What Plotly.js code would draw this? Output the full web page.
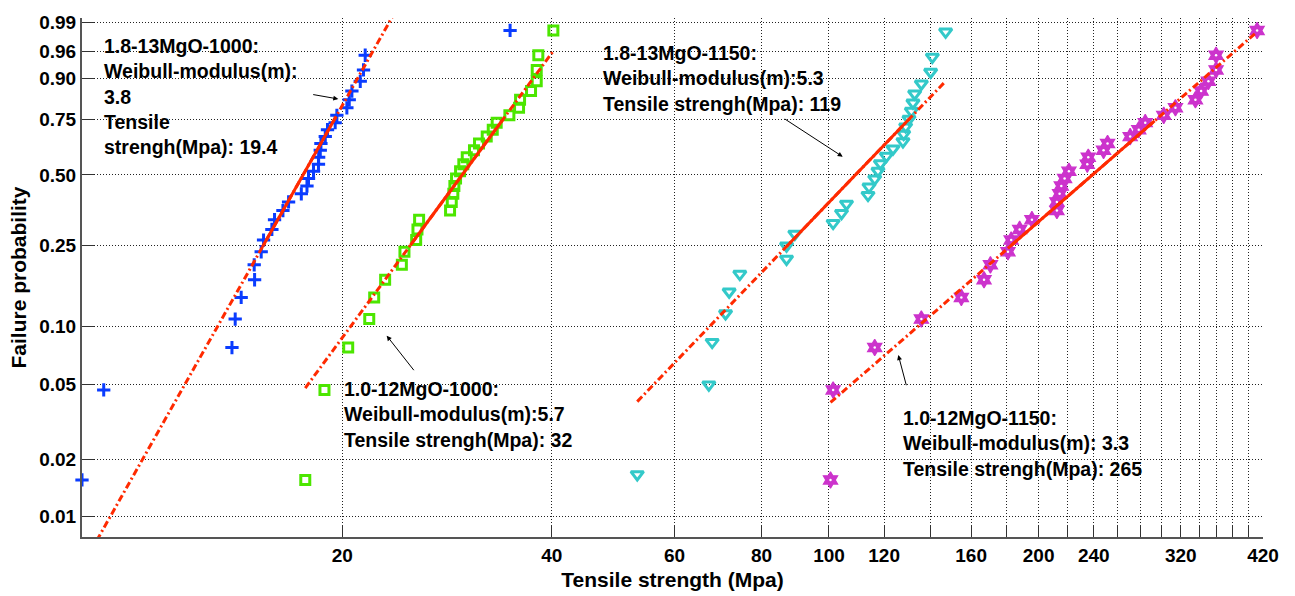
<!DOCTYPE html>
<html>
<head>
<meta charset="utf-8">
<script src="https://cdn.plot.ly/plotly-3.0.1.min.js"></script>
<style>html,body{margin:0;padding:0;background:#fff;}#chart{width:1295px;height:596px;}</style>
</head>
<body>
<div id="chart"></div>
<script>
// ---------- data ----------
// 1.8-13MgO-1000 (blue crosses)
const blueStrength = [8.46, 9.09, 13.89, 14.04, 14.32, 14.97, 14.95, 15.30, 15.42, 15.85, 15.99, 16.44, 16.75, 17.47, 17.80, 17.89,
  18.19, 18.49, 18.50, 18.60, 18.64, 18.91, 19.05, 19.54, 19.65, 20.31, 20.47, 20.65, 21.23, 21.46, 21.58, 34.84];
const blueProb = [0.0156, 0.0469, 0.0781, 0.1094, 0.1406, 0.1719, 0.2031, 0.2344, 0.2656, 0.2969, 0.3281, 0.3594, 0.3906, 0.4219, 0.4531, 0.4844,
  0.5156, 0.5469, 0.5781, 0.6094, 0.6406, 0.6719, 0.7031, 0.7344, 0.7656, 0.7969, 0.8281, 0.8594, 0.8906, 0.9219, 0.9531, 0.9844];
// 1.0-12MgO-1000 (green squares)
const greenStrength = [17.70, 18.86, 20.40, 21.87, 22.23, 23.05, 24.36, 24.57, 25.54, 25.65, 25.79, 28.57, 28.73, 28.88, 28.98, 29.14,
  29.53, 29.85, 30.19, 30.92, 31.44, 32.25, 32.90, 33.33, 34.76, 35.89, 36.01, 37.34, 38.05, 38.05, 38.25, 40.20];
const greenProb = [0.0156, 0.0469, 0.0781, 0.1094, 0.1406, 0.1719, 0.2031, 0.2344, 0.2656, 0.2969, 0.3281, 0.3594, 0.3906, 0.4219, 0.4531, 0.4844,
  0.5156, 0.5469, 0.5781, 0.6094, 0.6406, 0.6719, 0.7031, 0.7344, 0.7656, 0.7969, 0.8281, 0.8594, 0.8906, 0.9219, 0.9531, 0.9844];
// 1.8-13MgO-1150 (cyan triangles)
const cyanStrength = [53.05, 67.22, 67.96, 71.04, 71.89, 74.47, 86.91, 86.91, 89.32, 101.38, 104.24, 105.97, 113.78, 114.16, 116.33,
  117.60, 118.53, 120.91, 123.57, 127.72, 128.02, 128.86, 130.28, 131.31, 132.01, 132.75, 135.72, 139.96, 140.75, 147.07];
const cyanProb = [0.0167, 0.05, 0.0833, 0.1167, 0.15, 0.1833, 0.2167, 0.25, 0.2833, 0.3167, 0.35, 0.3833, 0.4167, 0.45, 0.4833,
  0.5167, 0.55, 0.5833, 0.6167, 0.65, 0.6833, 0.7167, 0.75, 0.7833, 0.8167, 0.85, 0.8833, 0.9167, 0.95, 0.9833];
// 1.0-12MgO-1150 (magenta hexagrams)
const magentaStrength = [100.51, 101.38, 116.33, 135.72, 154.92, 166.97, 170.54, 180.72, 182.65, 187.85, 195.62, 212.47, 212.47, 214.37, 215.58, 217.94,
  221.07, 234.91, 235.69, 247.91, 251.21, 270.71, 278.50, 284.54, 302.49, 314.41, 335.90, 342.28, 350.64, 359.66, 359.66, 411.90];
const magentaProb = [0.0156, 0.0469, 0.0781, 0.1094, 0.1406, 0.1719, 0.2031, 0.2344, 0.2656, 0.2969, 0.3281, 0.3594, 0.3906, 0.4219, 0.4531, 0.4844,
  0.5156, 0.5469, 0.5781, 0.6094, 0.6406, 0.6719, 0.7031, 0.7344, 0.7656, 0.7969, 0.8281, 0.8594, 0.8906, 0.9219, 0.9531, 0.9844];

// fitted Weibull reference lines: [modulus m, scale]
const blueFit = [6.65, 18.57];
const greenFit = [5.1, 31.95];
const cyanFit = [3.9, 119.9];
const magentaFit = [3.26, 267.4];

// axis ticks
const xTickValues = [20, 40, 60, 80, 100, 120, 140, 160, 180, 200, 220, 240, 260, 280, 300, 320, 340, 360, 380, 400, 420];
const xTickLabels = ['20', '40', '60', '80', '100', '120', '', '160', '', '200', '', '240', '', '', '', '320', '', '', '', '', '420'];
const yTickProbs = [0.01, 0.02, 0.05, 0.10, 0.25, 0.50, 0.75, 0.90, 0.96, 0.99];
const yTickLabels = ['0.01', '0.02', '0.05', '0.10', '0.25', '0.50', '0.75', '0.90', '0.96', '0.99'];

// annotation texts
const labelTexts = [
  '1.8-13MgO-1000:<br>Weibull-modulus(m):<br>3.8<br>Tensile<br>strengh(Mpa): 19.4',
  '1.0-12MgO-1000:<br>Weibull-modulus(m):5.7<br>Tensile strengh(Mpa): 32',
  '1.8-13MgO-1150:<br>Weibull-modulus(m):5.3<br>Tensile strengh(Mpa): 119',
  '1.0-12MgO-1150:<br>Weibull-modulus(m): 3.3<br>Tensile strengh(Mpa): 265'
];

// ---------- helpers ----------
const weib = F => Math.log(-Math.log(1 - F));
function prctile(arr, p) {
  const s = arr.slice().sort((a, b) => a - b);
  const n = s.length;
  let pos = n * p + 0.5; // 1-based (MATLAB style)
  if (pos <= 1) return s[0];
  if (pos >= n) return s[n - 1];
  const lo = Math.floor(pos), f = pos - lo;
  return s[lo - 1] + f * (s[lo] - s[lo - 1]);
}

const FONT = 'Liberation Sans, Arial, Helvetica, sans-serif';
const RED = '#FF2A00';
const traces = [];
function addSeries(xs, ps, fit, marker, whiteCenter) {
  traces.push({
    type: 'scatter', mode: 'markers', x: xs, y: ps.map(weib), cliponaxis: false,
    marker: marker, hoverinfo: 'x+y', showlegend: false
  });
  if (whiteCenter) {
    traces.push({
      type: 'scatter', mode: 'markers', x: xs, y: ps.map(weib), cliponaxis: false,
      marker: { symbol: 'circle', size: 2.5, color: '#fff' }, hoverinfo: 'skip', showlegend: false
    });
  }
  const m = fit[0], sc = fit[1];
  const xmin = Math.min(...xs), xmax = Math.max(...xs);
  const line = x => m * Math.log(x / sc);
  traces.push({
    type: 'scatter', mode: 'lines', x: [xmin, xmax], y: [line(xmin), line(xmax)],
    line: { color: RED, width: 3, dash: '7px,3px,2px,3px' }, hoverinfo: 'skip', showlegend: false
  });
  const q1 = prctile(xs, 0.25), q3 = prctile(xs, 0.75);
  traces.push({
    type: 'scatter', mode: 'lines', x: [q1, q3], y: [line(q1), line(q3)],
    line: { color: RED, width: 3 }, hoverinfo: 'skip', showlegend: false
  });
}
addSeries(blueStrength, blueProb, blueFit,
  { symbol: 'cross-thin-open', size: 9.5, color: '#0A3CFF', line: { color: '#0A3CFF', width: 3 } }, false);
addSeries(greenStrength, greenProb, greenFit,
  { symbol: 'square-open', size: 9, color: '#4CE600', line: { color: '#4CE600', width: 3 } }, false);
addSeries(cyanStrength, cyanProb, cyanFit,
  { symbol: 'triangle-down-open', size: 11, color: '#33C9C9', line: { color: '#33C9C9', width: 3 } }, false);
addSeries(magentaStrength, magentaProb, magentaFit,
  { symbol: 'hexagram', size: 12.5, color: '#CC33CC', line: { color: '#CC33CC', width: 1.2 } }, true);

// pixel -> paper helpers for the plot area
const L = 82, R = 1263, T = 18, B = 537;
const pxX = p => (p - L) / (R - L);
const pxY = p => (B - p) / (B - T);

const labelPos = [[102, 96], [342, 414.5], [601, 78], [901, 443]];
const arrows = [
  { head: [338.3, 99], tail: [311.7, 94.3] },
  { head: [386.7, 335.7], tail: [415, 371.7] },
  { head: [842.7, 156.7], tail: [783.3, 118] },
  { head: [898.3, 355], tail: [906.7, 386.7] }
];
const boxes = [[100, 32, 305, 158], [338, 373, 593, 455], [597, 36, 890, 112], [897, 398, 1193, 474]];

const annotations = [];
labelTexts.forEach((t, i) => {
  annotations.push({
    xref: 'paper', yref: 'paper', x: pxX(labelPos[i][0]), y: pxY(labelPos[i][1]),
    xanchor: 'left', yanchor: 'middle', align: 'left', showarrow: false, text: t,
    font: { family: FONT, size: 19.5, color: '#000', weight: 700 }
  });
});
arrows.forEach(a => {
  annotations.push({
    xref: 'paper', yref: 'paper', x: pxX(a.head[0]), y: pxY(a.head[1]),
    ax: a.tail[0] - a.head[0], ay: a.tail[1] - a.head[1], text: '', showarrow: true,
    arrowhead: 2, arrowsize: 1, arrowwidth: 1, arrowcolor: '#000'
  });
});
const shapes = boxes.map(b => ({
  type: 'rect', xref: 'paper', yref: 'paper', layer: 'between',
  x0: pxX(b[0]), x1: pxX(b[2]), y0: pxY(b[3]), y1: pxY(b[1]),
  fillcolor: '#fff', line: { width: 0 }
}));

const layout = {
  width: 1295, height: 596,
  margin: { l: L, r: 1295 - R, t: T, b: 596 - B, pad: 0 },
  paper_bgcolor: '#fff', plot_bgcolor: '#fff',
  showlegend: false,
  font: { family: FONT, color: '#000' },
  xaxis: {
    type: 'log', range: [Math.log10(8.46), Math.log10(420)],
    tickmode: 'array', tickvals: xTickValues, ticktext: xTickLabels,
    ticks: 'inside', ticklen: 12, tickwidth: 1, tickcolor: '#333',
    tickfont: { family: FONT, size: 19, weight: 700, color: '#000' },
    showgrid: true, gridcolor: '#222', gridwidth: 1, griddash: '1px,2px',
    zeroline: false, showline: true, linecolor: '#555', linewidth: 2, mirror: false,
    title: { text: 'Tensile strength (Mpa)', font: { family: FONT, size: 21, weight: 700, color: '#000' }, standoff: 8 },
    automargin: false
  },
  yaxis: {
    range: [-4.8604, 1.5804],
    tickmode: 'array', tickvals: yTickProbs.map(weib), ticktext: yTickLabels,
    ticks: 'inside', ticklen: 12, tickwidth: 1, tickcolor: '#333',
    tickfont: { family: FONT, size: 19, weight: 700, color: '#000' },
    showgrid: true, gridcolor: '#222', gridwidth: 1, griddash: '1px,2px',
    zeroline: false, showline: true, linecolor: '#555', linewidth: 2, mirror: false,
    title: { text: 'Failure probability', font: { family: FONT, size: 21, weight: 700, color: '#000' }, standoff: 7 },
    automargin: false
  },
  annotations: annotations,
  shapes: shapes
};

Plotly.newPlot('chart', traces, layout, { displayModeBar: false, staticPlot: true });
</script>
</body>
</html>
